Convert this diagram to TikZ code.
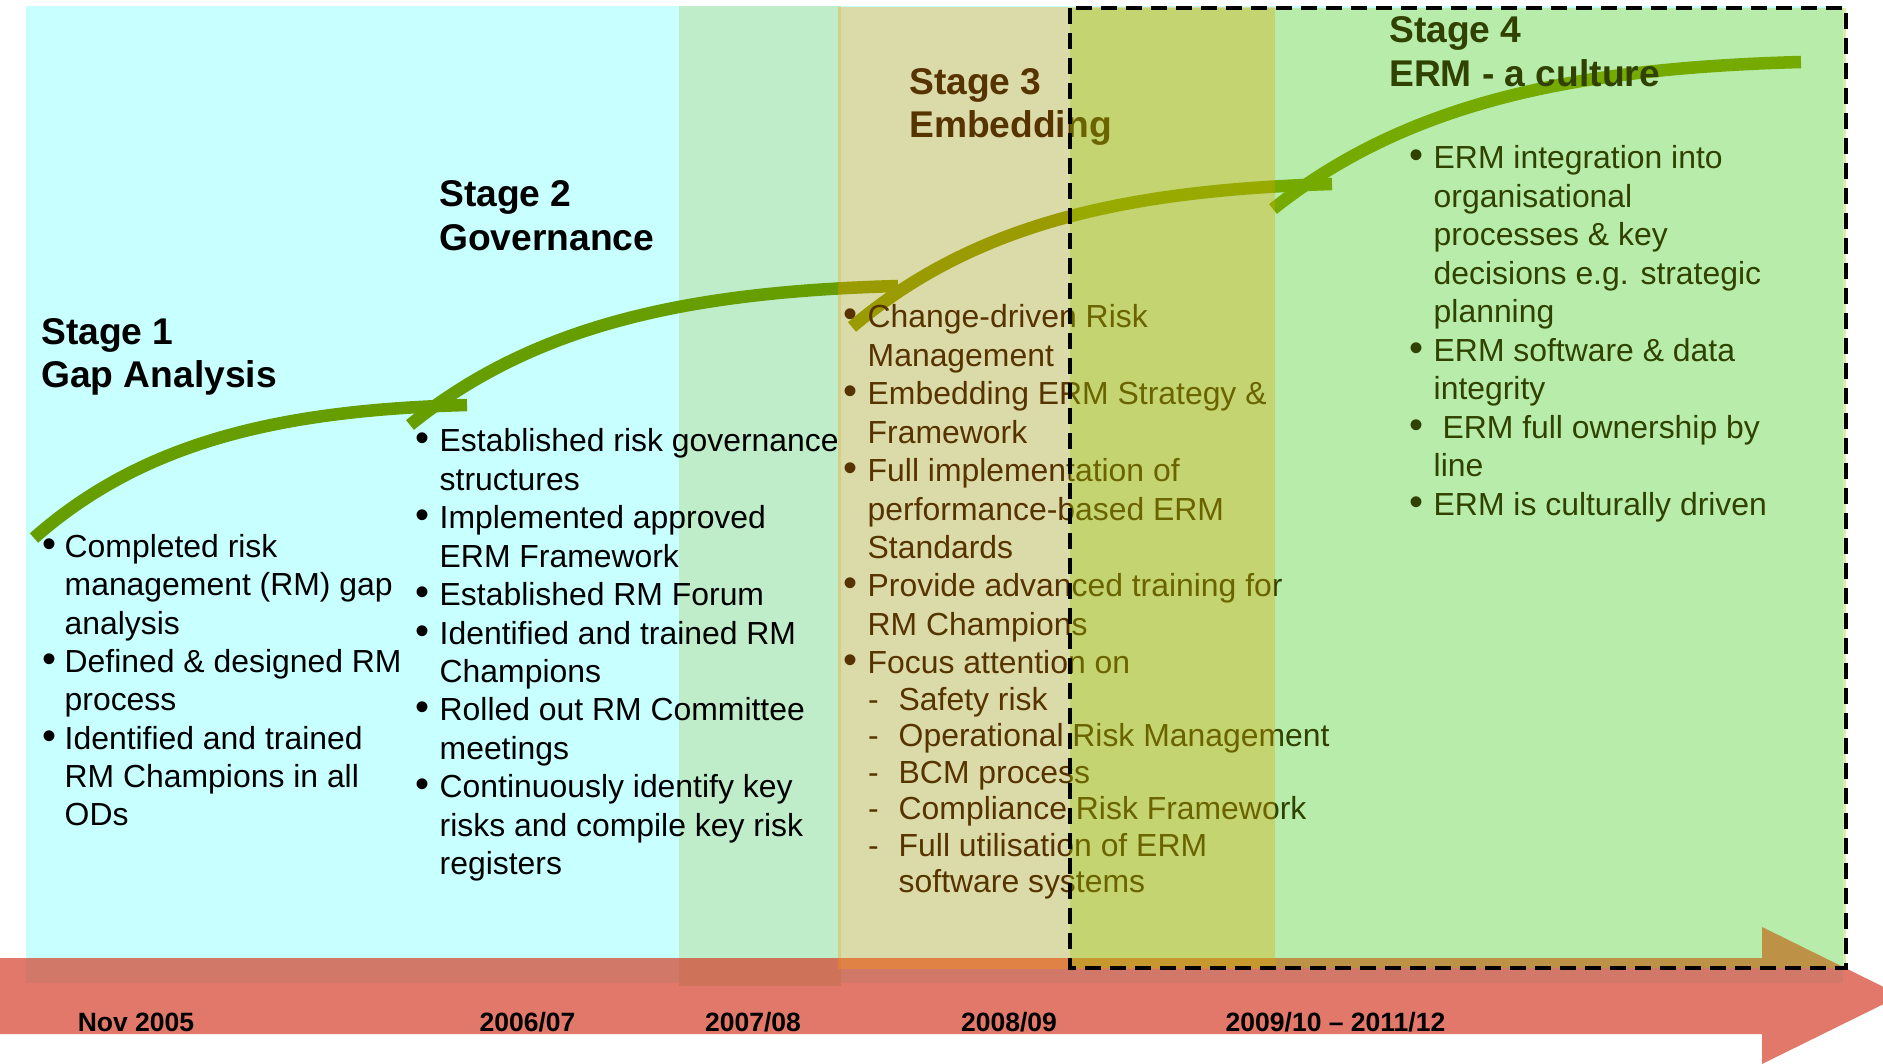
\documentclass[tikz,border=0pt]{standalone}
\usepackage{fontspec}
\setmainfont{Liberation Sans}
\definecolor{cyanbg}{RGB}{200,255,255}
\definecolor{bandbg}{RGB}{191,237,201}
\definecolor{curvegreen}{RGB}{102,158,0}
\definecolor{arrowred}{RGB}{214,65,45}
\definecolor{tanover}{RGB}{255,150,0}
\definecolor{greenover}{RGB}{149,199,0}
\begin{document}
\begin{tikzpicture}[x=1pt,y=-1pt,
  ln/.style={anchor=base west, inner sep=0pt, font=\fontsize{31.9}{38}\selectfont},
  bul/.style={anchor=base west, inner sep=0pt, font=\fontsize{40}{40}\selectfont},
  ttl/.style={anchor=base west, inner sep=0pt, font=\bfseries\fontsize{37.2}{43}\selectfont},
  yr/.style={anchor=base, inner sep=0pt, font=\bfseries\fontsize{26.5}{30}\selectfont},
  stagearc/.style={draw=curvegreen, line width=12.5pt},
  overlaytan/.style={fill=tanover, fill opacity=0.34},
  overlaygreen/.style={fill=greenover, fill opacity=0.33},
  dashbox/.style={draw=black, line width=3.5pt, dash pattern=on 16pt off 9pt}]
\useasboundingbox (0,0) rectangle (1883,1064);
\clip (0,0) rectangle (1883,1064);
% backgrounds
\fill[cyanbg] (26,6) rectangle (1843,983);
\fill[bandbg] (679,6) rectangle (841,986);
% stage arcs
\draw[stagearc] (34,538) .. controls (146,439) and (287,410) .. (467,405);
\draw[stagearc] (410,425) .. controls (537,322) and (695,291.6) .. (898,286);
\draw[stagearc] (852,327) .. controls (977,221) and (1132,190) .. (1332,184);
\draw[stagearc] (1273,209) .. controls (1410,100) and (1581,68) .. (1801,62);
% titles
\node[ttl] (t1a) at (41,345) {Stage 1};
\node[ttl] (t1b) at (41,388) {Gap Analysis};
\node[ttl] (t2a) at (439,207) {Stage 2};
\node[ttl] (t2b) at (439,251) {Governance};
\node[ttl] (t3a) at (909,95) {Stage 3};
\node[ttl] (t3b) at (909,138) {Embedding};
\node[ttl] (t4a) at (1389,42.5) {Stage 4};
\node[ttl] (t4b) at (1389,86.5) {ERM - a culture};
% stage 1 text
\foreach \t [count=\i from 0] in {Completed risk, management (RM) gap, analysis, Defined \& designed RM, process, Identified and trained, RM Champions in all, ODs}
  \node[ln] (sa\i) at (64.5,557.5+\i*38.3) {\t};
\foreach \i in {0,3,5}
  \node[bul] (ba\i) at (42,557.5+\i*38.3) {•};
% stage 2 text
\foreach \t [count=\i from 0] in {Established risk governance, structures, Implemented approved, ERM Framework, Established RM Forum, Identified and trained RM, Champions, Rolled out RM Committee, meetings, Continuously identify key, risks and compile key risk, registers}
  \node[ln] (sb\i) at (439.5,452+\i*38.4) {\t};
\foreach \i in {0,2,4,5,7,9}
  \node[bul] (bb\i) at (415,452+\i*38.4) {•};
% stage 3 text
\foreach \t [count=\i from 0] in {Change-driven Risk, Management, Embedding ERM Strategy \&, Framework, Full implementation of, performance-based ERM, Standards, Provide advanced training for, RM Champions, Focus attention on}
  \node[ln] (sc\i) at (867.5,328+\i*38.4) {\t};
\foreach \i in {0,2,4,7,9}
  \node[bul] (bc\i) at (843,328+\i*38.4) {•};
\foreach \t [count=\i from 1] in {Safety risk, Operational Risk Management, BCM process, Compliance Risk Framework, Full utilisation of ERM}
  {\node[ln] (sd\i) at (898.5,673.6+\i*36.5) {\t};
   \node[ln] (dd\i) at (868,673.6+\i*36.5) {-};}
\node[ln] (sd6) at (898.5,673.6+6*36.5) {software systems};
% stage 4 text
\foreach \t [count=\i from 0] in {ERM integration into, organisational, processes \& key, decisions e.g. strategic, planning, ERM software \& data, integrity, \ ERM full ownership by, line, ERM is culturally driven}
  \node[ln] (se\i) at (1433.5,169+\i*38.5) {\t};
\foreach \i in {0,5,7,9}
  \node[bul] (be\i) at (1409,169+\i*38.5) {•};
% timeline arrow
\fill[arrowred, fill opacity=0.71] (0,958) -- (1762,958) -- (1762,927) -- (1901,995.5) -- (1762,1064) -- (1762,1034) -- (0,1034) -- cycle;
\node[yr] (y1) at (136,1031) {Nov 2005};
\node[yr] (y2) at (527.5,1031) {2006/07};
\node[yr] (y3) at (753,1031) {2007/08};
\node[yr] (y4) at (1009,1031) {2008/09};
\node[yr] (y5) at (1335.5,1031) {2009/10 – 2011/12};
% overlays
\fill[overlaytan] (838,7) rectangle (1275,969);
\fill[overlaygreen] (1070,8) rectangle (1846,968);
\draw[dashbox] (1070,8) rectangle (1846,968);
\end{tikzpicture}
\end{document}
